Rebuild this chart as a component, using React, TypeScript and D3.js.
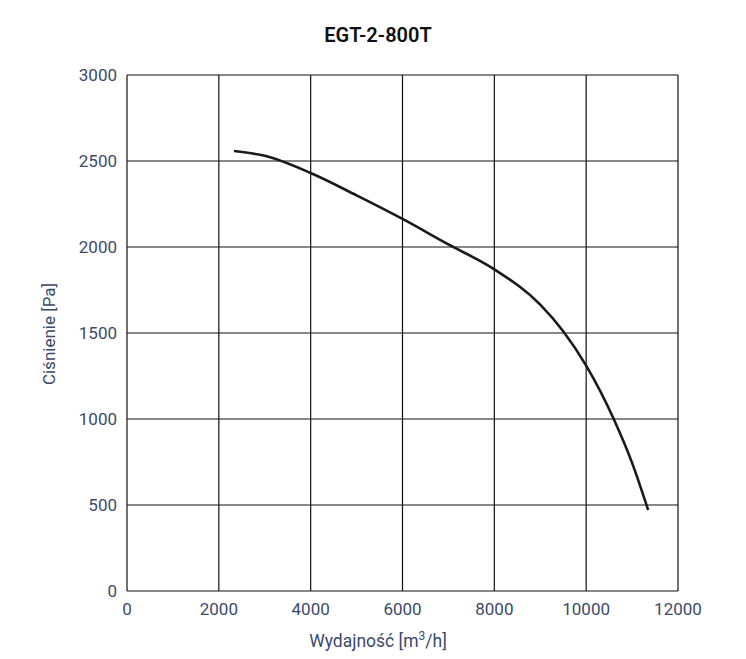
import React from "react";
import * as d3 from "d3";

const title = "EGT-2-800T";
const xTicks = [0, 2000, 4000, 6000, 8000, 10000, 12000];
const yTicks = [0, 500, 1000, 1500, 2000, 2500, 3000];
const flow = [2330, 3000, 4000, 5000, 6000, 7000, 8000, 9000, 9500, 10000, 10600, 11000, 11350];
const pressure = [2558, 2530, 2430, 2300, 2163, 2015, 1870, 1665, 1510, 1310, 1000, 745, 471];

export default function App() {
  const W = 746, H = 659;
  const left = 127, right = 678, top = 75, bottom = 591;
  const x = d3.scaleLinear().domain([0, 12000]).range([left, right]);
  const y = d3.scaleLinear().domain([0, 3000]).range([bottom, top]);
  const pts = flow.map((f, i) => [f, pressure[i]] as [number, number]);
  const line = d3.line<[number, number]>().x(d => x(d[0])).y(d => y(d[1])).curve(d3.curveMonotoneX);
  const tickColor = "#3b4a6b";
  const font = "Roboto, 'Open Sans', sans-serif";
  return (
    <svg width={W} height={H} style={{ position: "absolute", left: 0, top: 0, background: "#fff" }}>
      <text x={378} y={42} textAnchor="middle" fontFamily={font} fontWeight={600} fontSize={20} fill="#111">{title}</text>
      {xTicks.map(t => (
        <line key={"gx" + t} x1={x(t)} x2={x(t)} y1={top} y2={bottom} stroke="#111" strokeWidth={1.2} />
      ))}
      {yTicks.map(t => (
        <line key={"gy" + t} x1={left} x2={right} y1={y(t)} y2={y(t)} stroke="#111" strokeWidth={1.2} />
      ))}
      {xTicks.map(t => (
        <text key={"tx" + t} x={x(t)} y={615} textAnchor="middle" fontFamily={font} fontSize={17} fill={tickColor}>{t}</text>
      ))}
      {yTicks.map(t => (
        <text key={"ty" + t} x={117} y={y(t) + 6} textAnchor="end" fontFamily={font} fontSize={17} fill={tickColor}>{t}</text>
      ))}
      <path d={line(pts) || ""} fill="none" stroke="#1a1a1a" strokeWidth={2.6} />
      <text x={378} y={647} textAnchor="middle" fontFamily={font} fontSize={17.5} fill={tickColor}>
        Wydajność [m<tspan dy={-7} fontSize={12}>3</tspan><tspan dy={7}>/h]</tspan>
      </text>
      <text transform={`translate(55,334) rotate(-90)`} textAnchor="middle" fontFamily={font} fontSize={17} fill={tickColor}>Ciśnienie [Pa]</text>
    </svg>
  );
}
